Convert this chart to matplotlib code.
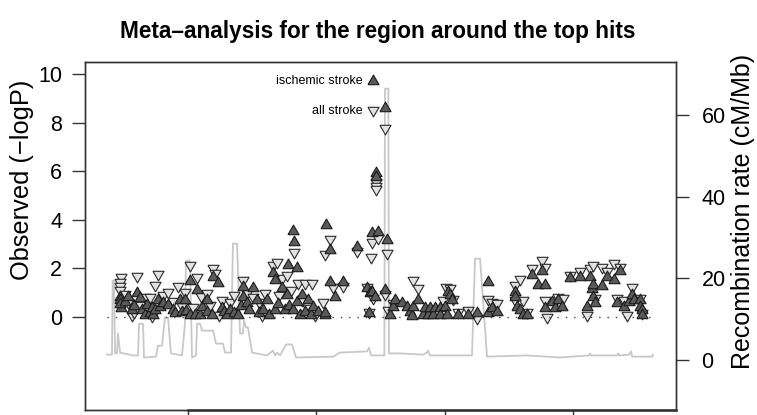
import matplotlib.pyplot as plt
from matplotlib import font_manager

plt.rcParams['font.family'] = ['Liberation Sans', 'DejaVu Sans']

# recombination map (position in kb, cM/Mb)
recomb_kb = [36.8, 40.7, 41.3, 42.3, 43.1, 44.6, 45.4, 47.0, 57.1, 61.0, 61.8, 64.9,
             65.7, 75.0, 76.6, 79.7, 82.0, 84.4, 86.7, 95.3, 97.6, 98.4, 101.5, 103.1,
             106.2, 107.0, 109.3, 110.9, 119.5, 121.8, 127.3, 128.8, 133.5, 135.0, 138.2,
             140.5, 142.8, 143.6, 145.2, 146.7, 149.9, 161.6, 166.2, 167.8, 169.3, 171.7,
             176.4, 181.0, 184.2, 213.0, 218.5, 239.5, 241.1, 242.6, 253.0, 253.5, 256.1,
             256.6, 265.2, 283.1, 286.3, 287.0, 288.6, 321.3, 323.7, 327.6, 333.0, 364.2,
             389.9, 412.5, 413.3, 414.1, 434.4, 435.2, 436.0, 443.7, 445.3, 446.1, 461.6,
             462.4]
recomb_rate = [1.2, 1.2, 19.4, 19.4, 1.5, 1.5, 6.4, 1.7, 1.0, 1.0, 8.8, 8.8,
               0.5, 0.7, 3.4, 3.4, 10.3, 10.3, 1.5, 1.0, 8.8, 24.3, 24.3, 0.5,
               1.0, 8.8, 8.8, 7.1, 7.1, 3.9, 3.9, 1.7, 1.7, 28.5, 28.5,
               6.4, 6.4, 9.6, 7.9, 7.9, 1.7, 1.0, 2.2, 1.0, 1.7, 1.0,
               3.7, 3.7, 0.5, 0.7, 1.7, 2.0, 2.9, 1.0, 1.0, 66.6, 66.6,
               1.5, 1.5, 1.2, 1.7, 2.2, 1.0, 1.0, 24.8, 24.8, 0.7, 1.0,
               0.5, 1.0, 1.5, 1.0, 1.0, 1.5, 1.0, 1.2, 2.0, 0.7, 0.7,
               1.2]

# ischemic stroke (-log10 P)
ischemic_kb = [47.0, 47.0, 47.5, 47.0, 50.5, 53.5, 56.1, 58.0, 60.0, 62.6, 63.9, 66.5,
               68.0, 70.4, 72.0, 73.0, 74.3, 76.9, 78.2, 80.8, 84.7, 88.0, 90.0, 93.8,
               95.1, 97.7, 98.5, 101.6, 101.6, 105.5, 106.8, 109.4, 111.0, 114.6, 114.6,
               118.5, 119.8, 123.7, 126.3, 128.0, 130.2, 132.8, 136.0, 139.3, 141.0, 143.2,
               143.2, 145.8, 147.5, 150.9, 153.5, 155.0, 158.8, 161.4, 163.0, 166.6, 167.9,
               167.9, 170.0, 173.0, 175.6, 176.9, 178.2, 179.0, 182.1, 182.1, 182.7, 184.7,
               185.0, 187.3, 188.6, 191.0, 193.8, 195.5, 197.7, 201.0, 206.8, 206.8, 207.3,
               210.7, 210.7, 214.6, 221.1, 231.5, 239.2, 241.3, 241.8, 243.1, 243.1, 245.7,
               246.6, 246.6, 248.4, 253.5, 253.6, 254.9,
               257.4, 260.0, 261.3, 266.5, 270.4, 273.0, 274.3, 275.6, 279.5, 283.4, 284.7,
               287.3, 288.6, 291.2, 292.5, 296.4, 296.4, 300.3, 301.6, 302.9, 304.2, 305.5,
               310.7, 318.5, 325.0, 334.1, 334.1, 336.7, 340.6, 354.9, 354.9, 356.2, 358.8,
               361.4, 364.0, 367.9, 373.1, 375.7, 378.3, 378.3, 383.5, 386.1, 388.7, 391.3,
               397.3, 405.6, 410.8, 413.4, 414.7, 416.0, 416.0, 417.3, 422.5, 426.4, 431.6,
               434.2, 436.8, 439.4, 443.3, 445.9, 447.2, 452.4, 452.4, 453.7, 453.7]
ischemic_logp = [0.84, 0.70, 0.36, 0.55, 0.60, 0.84, 0.29, 0.45, 0.97, 0.77, 0.29, 0.08,
                 0.50, 0.15, 0.35, 0.08, 0.29, 0.70, 0.42, 0.56, 0.49, 0.30, 0.15, 0.70,
                 0.22, 0.70, 0.25, 1.48, 0.08, 0.08, 1.11, 0.08, 0.40, 0.70, 0.22,
                 0.08, 1.63, 1.38, 0.36, 0.20, 0.08, 0.29, 0.15, 0.08, 0.45, 1.22,
                 0.84, 0.56, 0.30, 1.18, 0.70, 0.15, 0.29, 0.70, 0.10, 1.82, 1.52,
                 0.29, 0.55, 1.18, 0.29, 0.90, 2.14, 0.45, 0.29, 3.55, 3.10, 2.00,
                 0.60, 0.08, 0.90, 0.20, 0.70, 0.10, 0.42, 0.20, 0.08, 0.15, 3.79,
                 2.76, 1.45, 0.84, 1.45, 2.89, 1.18, 0.15, 0.97, 3.44, 1.04, 0.84,
                 5.91, 5.75, 3.51, 1.11, 8.61, 3.17,
                 0.08, 0.42, 0.70, 0.56, 0.42, 0.22, 0.04, 0.42, 0.70, 0.08, 0.36,
                 0.08, 0.36, 0.08, 0.36, 0.36, 0.08, 0.42, 0.08, 1.04, 0.90, 0.70,
                 0.08, 0.08, 0.15, 1.45, 0.15, 0.36, 0.22, 1.04, 0.84, 0.42, 0.29,
                 0.08, 0.08, 1.73, 1.32, 1.87, 1.32, 0.36, 0.63, 0.36, 0.70, 0.42,
                 1.59, 1.66, 0.42, 1.66, 1.14, 1.32, 0.84, 0.56, 1.27, 1.66, 1.52,
                 0.56, 1.87, 0.42, 0.63, 0.90, 0.70, 0.70, 0.42, 0.29, 0.08]

# all stroke (-log10 P)
allstroke_kb = [47.5, 47.0, 47.0, 47.0, 50.5, 53.5, 56.1, 58.0, 60.0, 62.6, 66.5, 70.4,
                72.0, 74.3, 76.9, 80.8, 84.7, 88.0, 92.5, 95.0, 97.7, 101.6, 104.0, 106.8,
                110.0, 114.6, 117.0, 119.8, 121.1, 124.0, 126.3, 132.8, 136.0, 143.2, 146.0,
                150.9, 155.0, 157.5, 160.0, 166.6, 169.2, 171.0, 173.0, 176.9, 180.0, 182.7,
                186.0, 189.0, 191.2, 193.8, 196.4, 199.0, 205.5, 206.8, 210.7, 213.3, 221.1,
                231.5, 239.2, 241.3, 242.4, 243.1, 244.4, 246.6, 246.6, 246.6, 248.4, 253.5,
                253.6, 254.9, 256.1, 260.0, 275.6, 279.5, 299.0, 301.1, 304.2, 306.8, 310.7,
                318.5, 325.0, 334.1, 336.7, 340.6, 354.9, 354.9, 358.8, 361.4, 364.0, 367.9,
                375.7, 378.3, 378.3, 379.6, 388.7, 392.6, 397.3, 405.6, 410.8, 413.4, 416.0,
                417.3, 422.5, 426.4, 431.6, 434.2, 436.8, 439.4, 442.0, 445.9, 452.4, 453.7]
allstroke_logp = [1.63, 1.45, 1.27, 1.11, 0.95, 0.60, 0.08, 0.20, 1.69, 0.50, 0.84, 0.84,
                  0.05, 1.32, 1.77, 0.90, 1.04, 0.65, 1.27, 0.45, 1.04, 2.14, 0.40, 1.63,
                  0.85, 1.00, 0.50, 2.00, 1.82, 0.10, 0.70, 0.63, 0.90, 1.50, 1.00,
                  0.84, 0.60, 0.08, 1.00, 2.14, 2.28, 0.90, 1.59, 1.73, 1.10, 2.69,
                  1.38, 0.70, 1.38, 0.35, 1.38, 0.08, 0.63, 2.59, 3.20, 1.25, 1.27,
                  2.73, 1.25, 0.22, 2.48, 3.10, 0.77, 5.57, 5.39, 5.25, 3.24, 0.95,
                  7.79, 2.65, 0.29, 0.56, 1.52, 1.18, 0.70, 1.22, 1.18, 0.73, 0.22,
                  0.29, -0.06, 0.73, 0.63, 0.56, 1.32, 0.70, 1.55, 0.70, 0.22, 2.00,
                  2.35, 2.07, 0.70, 0.01, 0.84, 0.77, 1.73, 1.87, 0.08, 2.00, 2.14,
                  0.77, 2.07, 1.87, 2.21, 0.77, 2.07, 0.70, 0.08, 1.22, 0.77, 0.15]

x_ticks = [100, 200, 300, 400]
logp_ticks = [0, 2, 4, 6, 8, 10]
rate_ticks = [0, 20, 40, 60]

# equilateral triangles like R's pch 24/25 (closed so the outline is complete)
up_tri = [(-1, -0.577), (1, -0.577), (0, 1.155), (-1, -0.577)]
down_tri = [(-1, 0.577), (1, 0.577), (0, -1.155), (-1, 0.577)]

fig = plt.figure(figsize=(7.57, 4.15), dpi=100)
ax = fig.add_axes([0.1123, 0.012, 0.7807, 0.8386])
ax2 = ax.twinx()
ax.set_zorder(ax2.get_zorder() + 1)
ax.patch.set_visible(False)

ax2.plot(recomb_kb, recomb_rate, color='#c8c8c8', lw=1.3)
ax2.set_ylim(-12.42, 73.15)
ax2.set_yticks(rate_ticks)

ax.hlines(0, recomb_kb[0], recomb_kb[-1], colors='#444444',
          linestyles=(0, (1, 5)), lw=1)
h_all = ax.scatter(allstroke_kb, allstroke_logp, marker=down_tri, s=85,
                   facecolor='#e2e2e2', edgecolor='#2a2a2a', lw=0.8)
h_isch = ax.scatter(ischemic_kb, ischemic_logp, marker=up_tri, s=85,
                    facecolor='#5a5a5a', edgecolor='#1a1a1a', lw=0.8)

ax.set_xlim(19.7, 480.3)
ax.set_ylim(-3.83, 10.49)
ax.set_xticks(x_ticks)
ax.set_xticklabels([])
ax.set_yticks(logp_ticks)

for a in (ax, ax2):
    for s in a.spines.values():
        s.set_color('#333333')
        s.set_linewidth(1)
ax.tick_params(axis='both', length=9.4, width=1, color='#333333',
               labelsize=15.5, pad=7)
ax2.tick_params(axis='y', length=9.4, width=1, color='#333333',
                labelsize=15.5, pad=9)

# axis line below the ticks
ax.plot([x_ticks[0], ax.get_xlim()[1]], [0, 0], transform=ax.get_xaxis_transform(),
        color='#333333', lw=1.8, clip_on=False)

ax.legend([h_isch, h_all], ['ischemic stroke', 'all stroke'], loc='upper right',
          bbox_to_anchor=(0.4975, 0.962), bbox_transform=ax.transAxes,
          frameon=False, markerfirst=False, fontsize=9, labelspacing=1.4,
          handlelength=0.9, handletextpad=0.4, borderpad=0, borderaxespad=0)

fig.text(0.029, 0.566, 'Observed (\u2212logP)', rotation=90, ha='center',
         va='center', fontsize=18.3)
fig.text(0.982, 0.4916, 'Recombination rate (cM/Mb)', rotation=90, ha='center',
         va='center', fontsize=18)

names = {f.name for f in font_manager.fontManager.ttflist}
if 'Liberation Sans Narrow' in names:
    title_family, title_size = 'Liberation Sans Narrow', 19.5
else:
    title_family, title_size = 'Liberation Sans', 16.3
fig.text(0.4993, 0.923, 'Meta\u2013analysis for the region around the top hits',
         ha='center', va='center', fontsize=title_size, fontweight='bold',
         family=title_family)

fig.savefig('out.png', dpi=100)
